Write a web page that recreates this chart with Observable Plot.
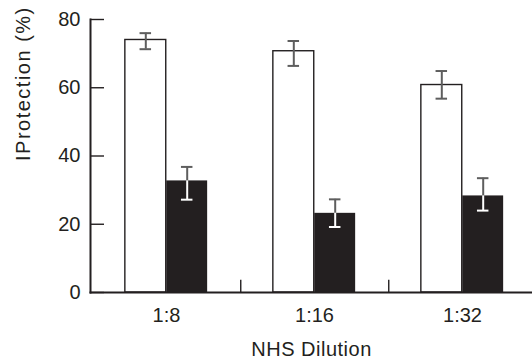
<!DOCTYPE html>
<html><head><meta charset="utf-8">
<script src="https://cdn.jsdelivr.net/npm/d3@7"></script>
<script src="https://cdn.jsdelivr.net/npm/@observablehq/plot@0.6"></script>
<style>body{margin:0;background:#fff}</style></head>
<body><div id="chart"></div>
<script>
const dilutions = ["1:8", "1:16", "1:32"];
const openMeans = [74, 70.7, 60.8];
const openLow = [71.3, 66.4, 56.8];
const openHigh = [76, 73.7, 64.9];
const filledMeans = [32.7, 23.2, 28.3];
const filledLow = [27.2, 19.2, 24];
const filledHigh = [36.8, 27.3, 33.5];
const yTicks = [0, 20, 40, 60, 80];
const separators = ["1:8", "1:16"];
const yLabel = "IProtection (%)";
const xLabel = "NHS Dilution";

const INK = "#231f20";
const GREY = "#5e5e5e";
const BW = 148.5;      // band width (px)
const BAR = 41.4;      // bar width
const OFF = BAR / 2;   // bar centre offset from band centre
const CAP = 12;

const open = dilutions.map((d, i) => ({dilution: d, value: openMeans[i], low: openLow[i], high: openHigh[i]}));
const filled = dilutions.map((d, i) => ({dilution: d, value: filledMeans[i], low: filledLow[i], high: filledHigh[i]}));

const capOpen = {insetLeft: BW / 2 - OFF - CAP / 2, insetRight: BW / 2 + OFF - CAP / 2};
const capFilled = {insetLeft: BW / 2 + OFF - CAP / 2, insetRight: BW / 2 - OFF - CAP / 2};

const chart = Plot.plot({
  width: 532, height: 358,
  marginLeft: 90, marginRight: 0, marginTop: 19, marginBottom: 66,
  style: {fontFamily: "'Liberation Sans', Arial, sans-serif", fontSize: "20px", color: INK, background: "#fff"},
  x: {type: "band", domain: dilutions, range: [91.5, 537], padding: 0},
  y: {domain: [0, 80]},
  marks: [
    Plot.barY(open, {x: "dilution", y: "value", fill: "white", stroke: INK, strokeWidth: 1.4,
      insetLeft: BW / 2 - BAR, insetRight: BW / 2}),
    Plot.barY(filled, {x: "dilution", y: "value", fill: INK,
      insetLeft: BW / 2, insetRight: BW / 2 - BAR}),
    // open bar error bars
    Plot.ruleX(open, {x: "dilution", y1: "low", y2: "high", dx: -OFF, stroke: GREY, strokeWidth: 2}),
    Plot.tickY(open, {x: "dilution", y: "low", stroke: GREY, strokeWidth: 2, ...capOpen}),
    Plot.tickY(open, {x: "dilution", y: "high", stroke: GREY, strokeWidth: 2, ...capOpen}),
    // filled bar error bars
    Plot.ruleX(filled, {x: "dilution", y1: "value", y2: "high", dx: OFF, stroke: GREY, strokeWidth: 2}),
    Plot.ruleX(filled, {x: "dilution", y1: "low", y2: "value", dx: OFF, stroke: "white", strokeWidth: 2}),
    Plot.tickY(filled, {x: "dilution", y: "high", stroke: GREY, strokeWidth: 2, ...capFilled}),
    Plot.tickY(filled, {x: "dilution", y: "low", stroke: "white", strokeWidth: 2, ...capFilled}),
    // group separators
    Plot.ruleX(separators, {x: d => d, dx: BW / 2, y1: 0, y2: 3.6, stroke: INK, strokeWidth: 1.4}),
    Plot.frame({anchor: "left", stroke: INK, strokeWidth: 2}),
    Plot.frame({anchor: "bottom", stroke: INK, strokeWidth: 2}),
    Plot.axisY({ticks: yTicks, tickSize: -14, tickPadding: 24, stroke: INK, strokeWidth: 1.4, label: null}),
    Plot.axisX({tickSize: 0, tickPadding: 15, label: null}),
    Plot.text([yLabel], {text: d => d, frameAnchor: "left", rotate: -90, dx: -67, dy: 5,
      fontSize: 20, fill: INK}),
    Plot.text([xLabel], {text: d => d, frameAnchor: "bottom", dy: 63, fontSize: 20, fill: INK})
  ]
});
d3.select(chart).selectAll("text").each(function () {
  if (this.textContent === yLabel) this.setAttribute("letter-spacing", "1.5px");
  if (this.textContent === xLabel) this.setAttribute("letter-spacing", "0.5px");
});
document.getElementById("chart").append(chart);
</script>
</body></html>
